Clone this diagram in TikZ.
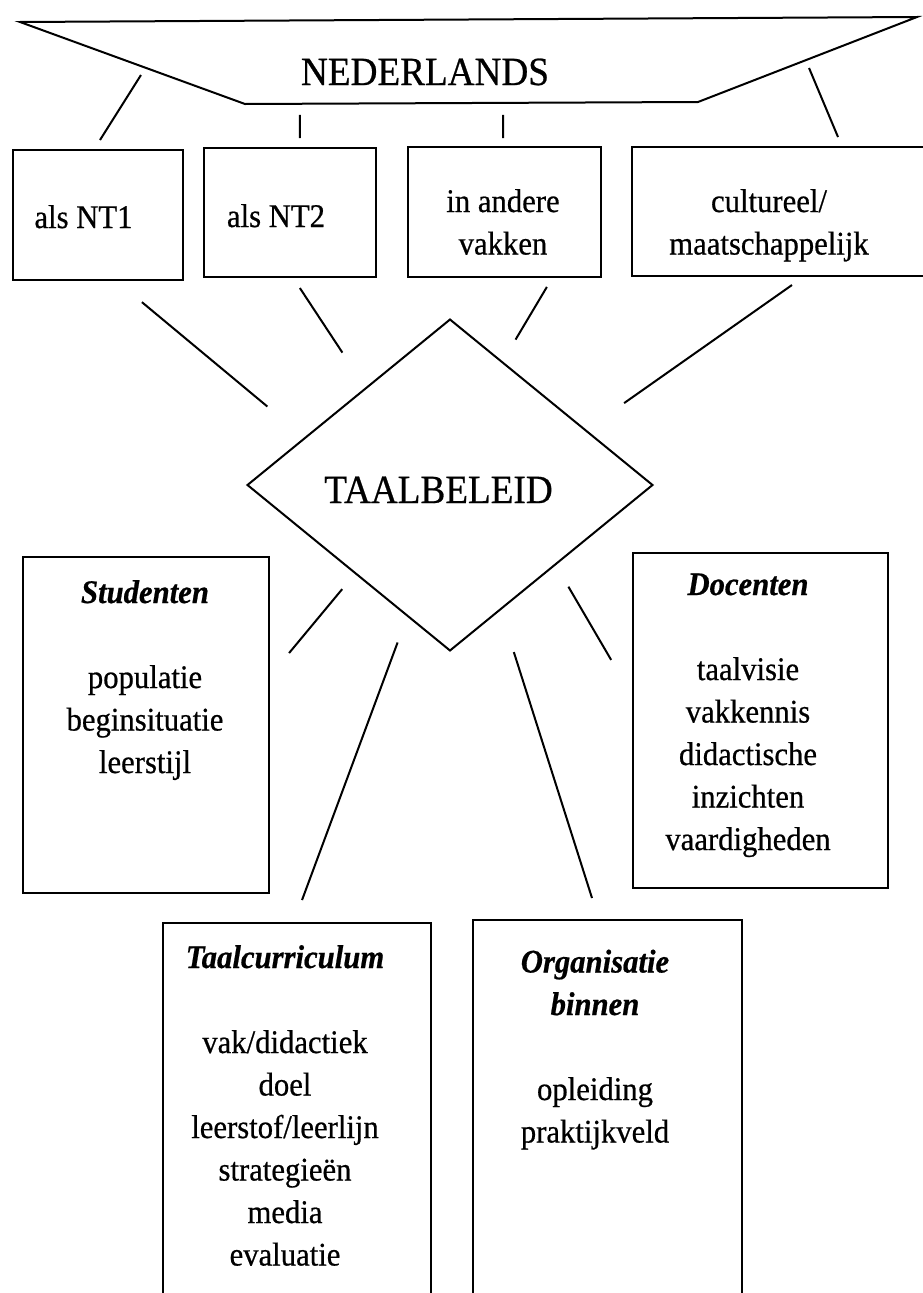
\documentclass[tikz,border=0pt]{standalone}
\usepackage{fontspec}
\setmainfont{Liberation Serif}[FakeStretch=0.93,FakeBold=0.6]
\usetikzlibrary{shapes.geometric,calc}

\begin{document}
\begin{tikzpicture}[
    x=1pt,y=-1pt,
    box/.style={rectangle,draw=black,line width=2pt,inner sep=0pt,outer sep=0pt},
    ruit/.style={diamond,draw=black,line width=2pt,inner sep=0pt,outer sep=0pt},
    conn/.style={line width=2pt},
    txt/.style={align=center,anchor=base,font=\fontsize{33}{42.5}\selectfont},
    head/.style={anchor=base,font=\fontsize{40}{48}\selectfont}
]

\useasboundingbox (0,0) rectangle (922,1293);

\coordinate (ned-tl) at (20,22);
\coordinate (ned-tr) at (917,17);
\coordinate (ned-br) at (698,102);
\coordinate (ned-bl) at (245,104);
\draw[conn] (ned-tl) -- (ned-tr) -- (ned-br) -- (ned-bl) -- cycle;
\node[head] (ned) at (425,85) {NEDERLANDS};

\node[box,minimum width=170pt,minimum height=130pt] (b1) at (98,215) {};
\node[box,minimum width=172pt,minimum height=129pt] (b2) at (290,212.5) {};
\node[box,minimum width=193pt,minimum height=130pt] (b3) at (504.5,212) {};
\node[box,minimum width=318pt,minimum height=129pt] (b4) at (791,211.5) {};

% base anchor sits on the last line
\node[txt] (b1-t) at (83.5,228) {als NT1};
\node[txt] (b2-t) at (276,227) {als NT2};
\node[txt] (b3-t) at (503,254.5) {in andere\\vakken};
\node[txt] (b4-t) at (769,254.5) {cultureel/\\maatschappelijk};

\node[ruit,minimum width=405pt,minimum height=331pt] (dia) at (450,485) {};
\node[head] (dia-t) at (438.5,503) {TAALBELEID};

\node[box,minimum width=246pt,minimum height=336pt] (stu) at (146,725) {};
\node[box,minimum width=255pt,minimum height=335pt] (doc) at (760.5,720.5) {};
\node[box,minimum width=268pt,minimum height=417pt] (cur) at (297,1131.5) {};
\node[box,minimum width=269pt,minimum height=420pt] (org) at (607.5,1130) {};

\node[txt] (stu-t) at (145,773) {\textbf{\textit{Studenten}}\\[42.5pt]populatie\\beginsituatie\\leerstijl};
\node[txt] (doc-t) at (748,850) {\textbf{\textit{Docenten}}\\[42.5pt]taalvisie\\vakkennis\\didactische\\inzichten\\vaardigheden};
\node[txt] (cur-t) at (285,1265.5) {\textbf{\textit{Taalcurriculum}}\\[42.5pt]vak/didactiek\\doel\\leerstof/leerlijn\\strategieën\\media\\evaluatie};
\node[txt] (org-t) at (595,1142.5) {\textbf{\textit{Organisatie}}\\\textbf{\textit{binnen}}\\[42.5pt]opleiding\\praktijkveld};

\draw[conn,shorten <=8.6pt,shorten >=11.8pt] ($(ned-tl)!0.558!(ned-bl)$) -- ([xshift=-4.3pt]b1.north);
\draw[conn,shorten <=11.2pt,shorten >=10pt] ($(ned-bl)!0.121!(ned-br)$) -- ([xshift=10pt]b2.north);
\draw[conn,shorten <=12pt,shorten >=9pt] ($(ned-bl)!0.57!(ned-br)$) -- ([xshift=-1.3pt]b3.north);
\draw[conn,shorten <=8.5pt,shorten >=10.8pt] ($(ned-tr)!0.508!(ned-br)$) -- ([xshift=51.2pt]b4.north);

\draw[conn,shorten <=34.6pt,shorten >=49.1pt] ([xshift=17.3pt]b1.south) -- (dia.162);
\draw[conn,shorten <=13.2pt,shorten >=42.7pt] ([xshift=2.6pt]b2.south) -- (dia.131);
\draw[conn,shorten <=11.6pt,shorten >=26.2pt] ([xshift=48.3pt]b3.south) -- (dia.67);
\draw[conn,shorten <=15.7pt,shorten >=47.2pt] ([xshift=13.8pt]b4.south) -- (dia.22);

\draw[conn,shorten <=20.7pt,shorten >=31.4pt] (dia.-137) -- ([yshift=47.8pt]stu.east);
\draw[conn,shorten <=28.5pt,shorten >=24.5pt] (dia.-108) -- ([xshift=-3.5pt]cur.north);
\draw[conn,shorten <=44.8pt,shorten >=23.1pt] (dia.-68) -- ([xshift=-8.5pt]org.north);
\draw[conn,shorten <=25.8pt,shorten >=43.3pt] (dia.-37) -- ([yshift=23.2pt]doc.west);

\end{tikzpicture}
\end{document}
